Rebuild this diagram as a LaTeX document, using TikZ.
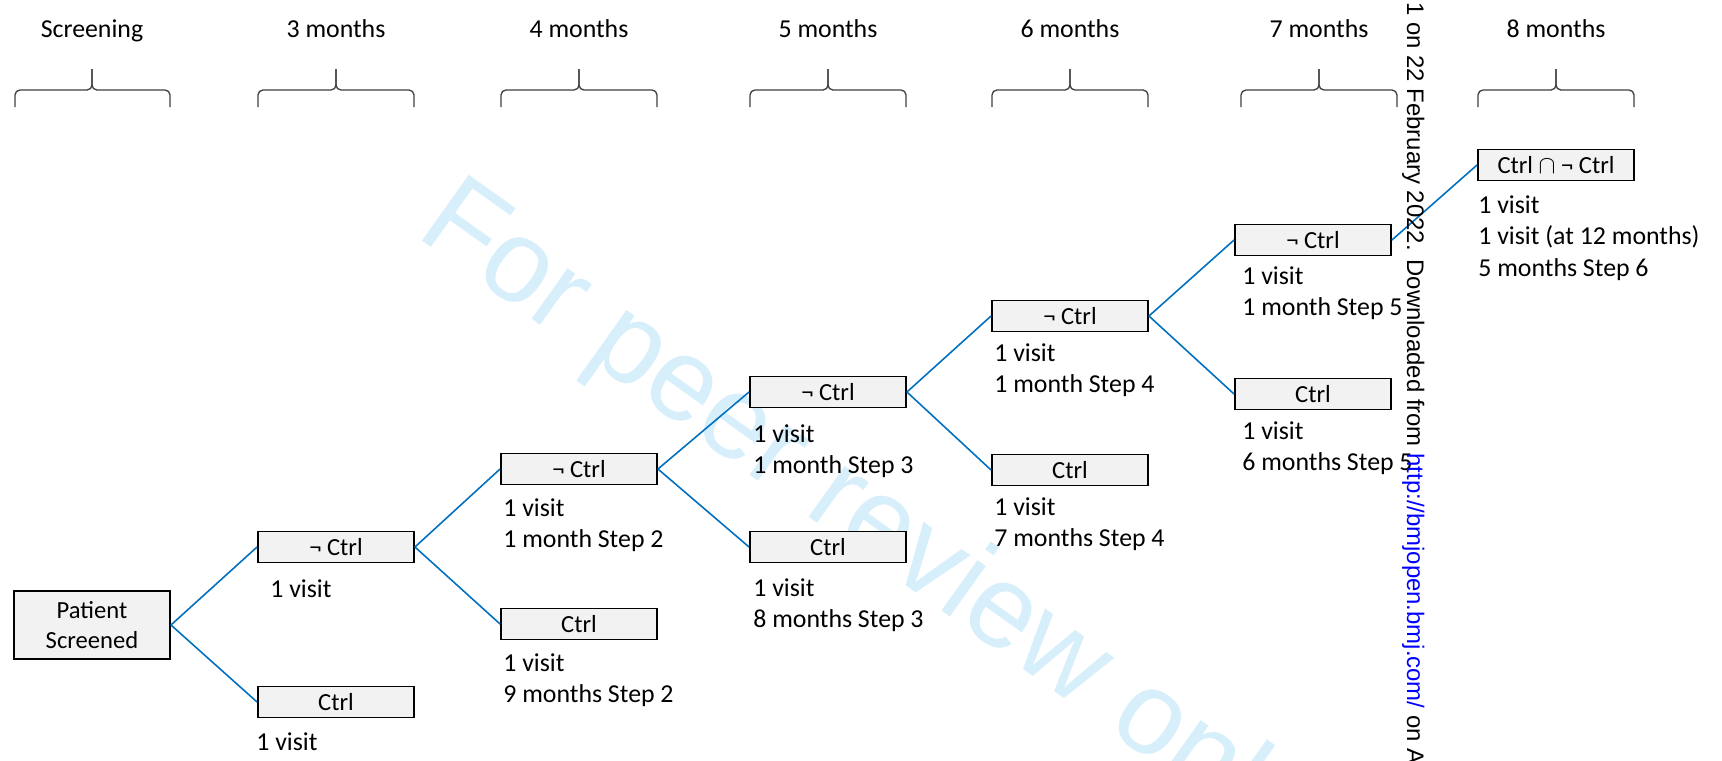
\documentclass[tikz,border=0pt]{standalone}
\usepackage{fontspec}
\setmainfont{Carlito}
\newfontfamily\arialfont{Liberation Sans}
\definecolor{boxgray}{HTML}{F2F2F2}
\definecolor{linkblue}{RGB}{0,112,192}
\definecolor{wmblue}{RGB}{214,239,251}
\definecolor{urlblue}{RGB}{0,0,255}
\tikzset{
  box/.style={draw=black, line width=1.1pt, fill=boxgray, minimum width=3.12cm,
    minimum height=0.62cm, inner sep=0pt, align=center, font=\fontsize{14}{17}\selectfont},
  lbl/.style={anchor=north west, align=left, inner sep=0pt,
    font=\fontsize{14.7}{18.1}\selectfont, execute at begin node={\rule{0pt}{10pt}}},
  hdr/.style={anchor=base, inner sep=0pt, font=\fontsize{14.7}{17}\selectfont},
  link/.style={draw=linkblue, line width=0.9pt},
  brc/.style={draw=black!75, line width=0.75pt, rounded corners=0.1cm},
}
\begin{document}
\begin{tikzpicture}[x=0.02cm,y=-0.02cm]
\useasboundingbox (0,0) rectangle (1722,761);
\fill[white] (0,0) rectangle (1722,761);
\clip (0,0) rectangle (1722,761);

% watermark
\node[rotate=-35.5, anchor=base west, inner sep=0pt, text=wmblue,
  font=\arialfont\fontsize{66.9}{70}\selectfont] (wm) at (414,235) {For peer review only};

% headers and braces
\foreach \l/\r/\c/\t [count=\i] in {15/170/92/Screening, 258/414/336/3 months,
  501/657/579/4 months, 750/906/828/5 months, 992/1148/1070/6 months,
  1241/1397/1319/7 months, 1478/1634/1556/8 months}{
  \node[hdr] (h\i) at (\c,37) {\t};
  \draw[brc] (\l,107) |- (\c,90) -- (\c,69);
  \draw[brc] (\r,107) |- (\c,90) -- (\c,69);
}

% boxes
\node[box, minimum height=1.36cm] (ps) at (92,625) {Patient\\Screened};
\node[box] (a1) at (336,547) {¬ Ctrl};
\node[box] (b1) at (336,702) {Ctrl};
\node[box] (a2) at (579,469) {¬ Ctrl};
\node[box] (b2) at (579,624) {Ctrl};
\node[box] (a3) at (828,392) {¬ Ctrl};
\node[box] (b3) at (828,547) {Ctrl};
\node[box] (a4) at (1070,316) {¬ Ctrl};
\node[box] (b4) at (1070,470) {Ctrl};
\node[box] (a5) at (1313,240) {¬ Ctrl};
\node[box] (b5) at (1313,394) {Ctrl};
\node[box] (c6) at (1556,165) {Ctrl $\cap$ ¬ Ctrl};

% connectors
\draw[link] (ps.east) -- (a1.west);
\draw[link] (ps.east) -- (b1.west);
\draw[link] (a1.east) -- (a2.west);
\draw[link] (a1.east) -- (b2.west);
\draw[link] (a2.east) -- (a3.west);
\draw[link] (a2.east) -- (b3.west);
\draw[link] (a3.east) -- (a4.west);
\draw[link] (a3.east) -- (b4.west);
\draw[link] (a4.east) -- (a5.west);
\draw[link] (a4.east) -- (b5.west);
\draw[link] (a5.east) -- (c6.west);

% labels
\node[lbl] (la1) at (270,579) {1 visit};
\node[lbl] (lb1) at (256,732) {1 visit};
\node[lbl] (la2) at (503,498) {1 visit\\1 month Step 2};
\node[lbl] (lb2) at (503,653) {1 visit\\9 months Step 2};
\node[lbl] (la3) at (753,424) {1 visit\\1 month Step 3};
\node[lbl] (lb3) at (753,578) {1 visit\\8 months Step 3};
\node[lbl] (la4) at (994,343) {1 visit\\1 month Step 4};
\node[lbl] (lb4) at (994,497) {1 visit\\7 months Step 4};
\node[lbl] (la5) at (1242,266) {1 visit\\1 month Step 5};
\node[lbl] (lb5) at (1242,421) {1 visit\\6 months Step 5};
\node[lbl] (lc6) at (1478,195) {1 visit\\1 visit (at 12 months)\\5 months Step 6};

% vertical download note
\node[rotate=-90, anchor=base west, inner sep=0pt,
  font=\arialfont\fontsize{13.6}{16}\selectfont] (dl) at (1407,2)
  {1 on 22 February 2022. Downloaded from \textcolor{urlblue}{http://bmjopen.bmj.com/} on A};
\end{tikzpicture}
\end{document}
